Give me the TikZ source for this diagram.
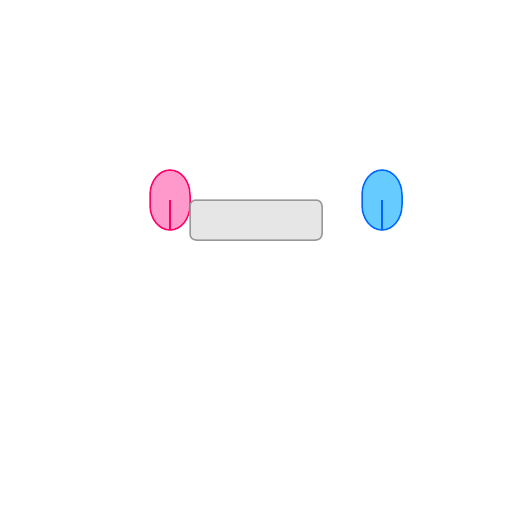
\documentclass[tikz,border=0pt]{standalone}
\definecolor{pinkfill}{HTML}{FF99CC}
\definecolor{pinkline}{HTML}{FF0066}
\definecolor{bluefill}{HTML}{66CCFF}
\definecolor{blueline}{HTML}{0066FF}
\definecolor{boxfill}{HTML}{E6E6E6}
\definecolor{boxline}{HTML}{999999}
\begin{document}
\begin{tikzpicture}[x=1pt,y=-1pt,
  mouseline/.style={line width=1.5pt},
  bar/.style={rectangle, rounded corners=6pt, draw=boxline, fill=boxfill, line width=1.5pt, minimum width=132pt, minimum height=40pt, inner sep=0pt},
  mouse/.pic={
    \path[pic actions] (-20,-5) -- (-20,5) arc[start angle=180, end angle=360, x radius=20pt, y radius=25pt]
      -- (20,-5) arc[start angle=0, end angle=180, x radius=20pt, y radius=25pt] -- cycle;
    \coordinate (-c) at (0,0);
    \coordinate (-s) at (0,30);
  }]
\useasboundingbox (0,0) rectangle (512,512);
\pic[draw=pinkline, fill=pinkfill, mouseline] (p) at (170,200) {mouse};
\draw[pinkline, mouseline] (p-c) -- (p-s);
\pic[draw=blueline, fill=bluefill, mouseline] (b) at (382,200) {mouse};
\draw[blueline, mouseline] (b-c) -- (b-s);
\node[bar] (r) at (256,220) {};
\end{tikzpicture}
\end{document}
